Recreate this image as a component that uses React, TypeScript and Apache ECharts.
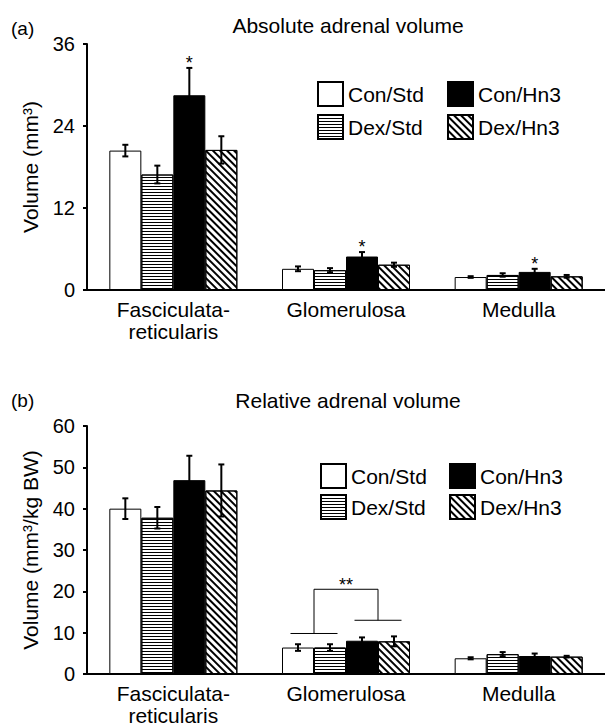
import React, { useEffect, useRef } from 'react';
import * as echarts from 'echarts';

// ---------- data ----------
const categories = ['Fasciculata-\nreticularis', 'Glomerulosa', 'Medulla'];
const seriesNames = ['Con/Std', 'Dex/Std', 'Con/Hn3', 'Dex/Hn3'];

// (a) Absolute adrenal volume (mm3)
const absYMax = 36;
const absYInterval = 12;
const conStdAbs = [20.4, 3.1, 1.9];
const dexStdAbs = [16.9, 2.9, 2.2];
const conHn3Abs = [28.5, 4.9, 2.65];
const dexHn3Abs = [20.5, 3.7, 2.0];
const conStdAbsErr = [0.85, 0.35, 0.12];
const dexStdAbsErr = [1.3, 0.3, 0.25];
const conHn3AbsErr = [4.0, 0.65, 0.45];
const dexHn3AbsErr = [2.0, 0.3, 0.2];
const conHn3AbsStars = ['*', '*', '*'];

// (b) Relative adrenal volume (mm3/kg BW)
const relYMax = 60;
const relYInterval = 10;
const conStdRel = [40.0, 6.4, 3.8];
const dexStdRel = [37.8, 6.4, 4.8];
const conHn3Rel = [46.9, 8.05, 4.35];
const dexHn3Rel = [44.4, 7.9, 4.2];
const conStdRelErr = [2.5, 0.8, 0.25];
const dexStdRelErr = [2.6, 0.8, 0.5];
const conHn3RelErr = [5.9, 0.8, 0.6];
const dexHn3RelErr = [6.3, 1.2, 0.2];

// significance bracket in (b), Glomerulosa: left arm, top, right arm levels
const bracketCategory = 1;
const bracketLevels = [9.8, 20.5, 13.0];
const bracketLabel = '**';
const bracketLabelLevel = 21.6;

// ---------- styling ----------
const FONT = '"Liberation Sans", Arial, Helvetica, sans-serif';
const BAR_W = 32;

const hStripe = {
  symbol: 'rect',
  symbolSize: 1,
  dashArrayX: [1, 0],
  dashArrayY: [1, 1.8],
  rotation: 0,
  color: '#000',
};
const dStripe = {
  symbol: 'rect',
  symbolSize: 1,
  dashArrayX: [1, 0],
  dashArrayY: [1.2, 2.2],
  rotation: Math.PI / 4,
  color: '#000',
};

const seriesStyles: any[] = [
  { color: '#fff', borderColor: '#000', borderWidth: 1 },
  { color: '#fff', borderColor: '#000', borderWidth: 1, decal: hStripe },
  { color: '#000', borderColor: '#000', borderWidth: 1 },
  { color: '#fff', borderColor: '#000', borderWidth: 1, decal: dStripe },
];

function barSeries(values: number[][], gridIdx: number) {
  return values.map((vals, s) => ({
    type: 'bar',
    name: seriesNames[s],
    xAxisIndex: gridIdx,
    yAxisIndex: gridIdx,
    data: vals,
    barWidth: BAR_W,
    barGap: '0%',
    silent: true,
    itemStyle: seriesStyles[s],
    z: 2,
  }));
}

function errSeries(values: number[][], errs: number[][], stars: (string | null)[][], gridIdx: number) {
  const items: { c: number; s: number; m: number; e: number; star: string | null }[] = [];
  values.forEach((vals, s) =>
    vals.forEach((m, c) => items.push({ c, s, m, e: errs[s][c], star: stars[s] ? stars[s][c] : null }))
  );
  return {
    type: 'custom',
    name: 'err' + gridIdx,
    xAxisIndex: gridIdx,
    yAxisIndex: gridIdx,
    silent: true,
    clip: false,
    z: 10,
    data: items.map((it) => [it.c, it.m]),
    renderItem: (params: any, api: any) => {
      const it = items[params.dataIndex];
      const base = api.coord([it.c, 0]);
      const x = base[0] + (it.s - 1.5) * BAR_W;
      const yTop = api.coord([it.c, it.m + it.e])[1];
      const yBot = api.coord([it.c, Math.max(0, it.m - it.e)])[1];
      const st = { stroke: '#000', lineWidth: 2 };
      const children: any[] = [
        { type: 'line', shape: { x1: x, y1: yTop, x2: x, y2: yBot }, style: st },
        { type: 'line', shape: { x1: x - 3, y1: yTop, x2: x + 3, y2: yTop }, style: st },
        { type: 'line', shape: { x1: x - 3, y1: yBot, x2: x + 3, y2: yBot }, style: st },
      ];
      if (it.star) {
        children.push({
          type: 'text',
          x,
          y: yTop - 5,
          style: { text: it.star, fontSize: 18, fontFamily: FONT, fill: '#000', align: 'center', verticalAlign: 'middle' },
        });
      }
      return { type: 'group', children };
    },
  };
}

function bracketSeries(gridIdx: number) {
  return {
    type: 'custom',
    name: 'bracket',
    xAxisIndex: gridIdx,
    yAxisIndex: gridIdx,
    silent: true,
    clip: false,
    z: 10,
    data: [[bracketCategory, bracketLevels[1]]],
    renderItem: (params: any, api: any) => {
      const cx = api.coord([bracketCategory, 0])[0];
      const yL = api.coord([bracketCategory, bracketLevels[0]])[1];
      const yT = api.coord([bracketCategory, bracketLevels[1]])[1];
      const yR = api.coord([bracketCategory, bracketLevels[2]])[1];
      const yLab = api.coord([bracketCategory, bracketLabelLevel])[1];
      const xl = cx - BAR_W;
      const xr = cx + BAR_W;
      const hw = 23.5;
      const st = { stroke: '#000', lineWidth: 1, fill: null };
      return {
        type: 'group',
        children: [
          { type: 'line', shape: { x1: xl - hw, y1: yL, x2: xl + hw, y2: yL }, style: st },
          { type: 'line', shape: { x1: xr - hw, y1: yR, x2: xr + hw, y2: yR }, style: st },
          { type: 'polyline', shape: { points: [[xl, yL], [xl, yT], [xr, yT], [xr, yR]] }, style: st },
          {
            type: 'text',
            x: cx,
            y: yLab,
            style: { text: bracketLabel, fontSize: 18, fontFamily: FONT, fill: '#000', align: 'center', verticalAlign: 'middle' },
          },
        ],
      };
    },
  };
}

function xAxisCfg(gridIdx: number) {
  return {
    type: 'category',
    gridIndex: gridIdx,
    data: categories,
    axisLine: { show: true, lineStyle: { color: '#000', width: 2 } },
    axisTick: { show: false },
    axisLabel: { interval: 0, fontSize: 21, lineHeight: 22, color: '#000', fontFamily: FONT, margin: 8 },
    splitLine: { show: false },
  };
}

function yAxisCfg(gridIdx: number, max: number, interval: number, name: string) {
  return {
    type: 'value',
    gridIndex: gridIdx,
    min: 0,
    max,
    interval,
    name,
    nameLocation: 'middle',
    nameRotate: 90,
    nameGap: 46,
    nameTextStyle: { fontSize: 21, color: '#000', fontFamily: FONT },
    axisLine: { show: true, lineStyle: { color: '#000', width: 2 } },
    axisTick: { show: true, length: 4, lineStyle: { color: '#000', width: 2 } },
    axisLabel: { fontSize: 20, color: '#000', fontFamily: FONT, margin: 12 },
    splitLine: { show: false },
  };
}

function legendItems(x1: number, x2: number, y1: number, y2: number) {
  const pos: [string, number, number][] = [
    [seriesNames[0], x1, y1],
    [seriesNames[2], x2, y1],
    [seriesNames[1], x1, y2],
    [seriesNames[3], x2, y2],
  ];
  return pos.map(([name, left, top]) => ({
    data: [name],
    left,
    top,
    padding: 0,
    itemWidth: 25,
    itemHeight: 24,
    icon: 'rect',
    selectedMode: false,
    textStyle: { fontSize: 21, color: '#000', fontFamily: FONT },
  }));
}

function titleText(text: string, x: number, y: number, size: number, align: string) {
  return {
    type: 'text',
    x,
    y,
    silent: true,
    style: { text, fontSize: size, fontFamily: FONT, fill: '#000', align, verticalAlign: 'middle' },
  };
}

export default function App() {
  const ref = useRef<HTMLDivElement>(null);
  useEffect(() => {
    if (!ref.current) return;
    const chart = echarts.init(ref.current, null, { renderer: 'svg' });
    const absVals = [conStdAbs, dexStdAbs, conHn3Abs, dexHn3Abs];
    const absErrs = [conStdAbsErr, dexStdAbsErr, conHn3AbsErr, dexHn3AbsErr];
    const absStars = [[], [], conHn3AbsStars, []] as any[];
    const relVals = [conStdRel, dexStdRel, conHn3Rel, dexHn3Rel];
    const relErrs = [conStdRelErr, dexStdRelErr, conHn3RelErr, dexHn3RelErr];
    const option: any = {
      animation: false,
      backgroundColor: '#fff',
      textStyle: { fontFamily: FONT },
      grid: [
        { left: 87, top: 44, width: 524, height: 246 },
        { left: 87, top: 426, width: 524, height: 248 },
      ],
      xAxis: [xAxisCfg(0), xAxisCfg(1)],
      yAxis: [
        yAxisCfg(0, absYMax, absYInterval, 'Volume (mm³)'),
        yAxisCfg(1, relYMax, relYInterval, 'Volume (mm³/kg BW)'),
      ],
      legend: [...legendItems(317, 447, 81, 114), ...legendItems(320, 449, 463, 494)],
      graphic: [
        titleText('(a)', 11, 28, 19, 'left'),
        titleText('Absolute adrenal volume', 348, 25, 21, 'center'),
        titleText('(b)', 11, 400, 19, 'left'),
        titleText('Relative adrenal volume', 348, 400, 21, 'center'),
      ],
      series: [
        ...barSeries(absVals, 0),
        ...barSeries(relVals, 1),
        errSeries(absVals, absErrs, absStars, 0),
        errSeries(relVals, relErrs, [[], [], [], []], 1),
        bracketSeries(1),
      ],
    };
    chart.setOption(option);
    return () => chart.dispose();
  }, []);
  return (
    <div
      ref={ref}
      style={{ position: 'absolute', left: 0, top: 0, width: 605, height: 726, background: '#fff' }}
    />
  );
}
